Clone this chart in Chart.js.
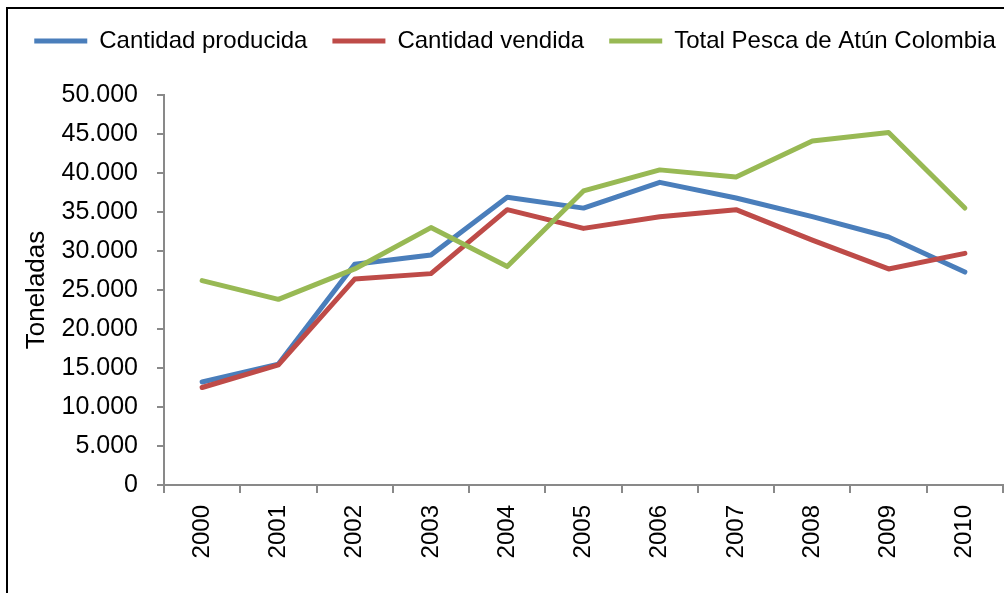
<!DOCTYPE html>
<html>
<head>
<meta charset="utf-8">
<script src="https://cdn.jsdelivr.net/npm/chart.js@4"></script>
<style>
  html, body { margin: 0; padding: 0; background: #fff; overflow: hidden; }
  #wrap { position: absolute; left: 0; top: 0; width: 1030px; height: 593px; }
</style>
</head>
<body>
<div id="wrap"><canvas id="c"></canvas></div>
<script>
const years = ['2000','2001','2002','2003','2004','2005','2006','2007','2008','2009','2010'];
const producida = [13200, 15500, 28300, 29500, 36900, 35500, 38800, 36800, 34400, 31800, 27300];
const vendida   = [12500, 15400, 26400, 27100, 35300, 32900, 34400, 35300, 31400, 27700, 29700];
const totalPesca = [26200, 23800, 27700, 33000, 28000, 37700, 40400, 39500, 44100, 45200, 35500];
const seriesNames = ['Cantidad producida', 'Cantidad vendida', 'Total Pesca de Atún Colombia'];
const yTitle = 'Toneladas';

const FONT = "'Liberation Sans', Arial, sans-serif";
const AXIS = '#898989';

function fmt(v) { return String(v).replace(/\B(?=(\d{3})+(?!\d))/g, '.'); }

const frame = {
  id: 'frame',
  beforeLayout(chart) {
    const lg = chart.legend;
    if (lg && !lg._patched) {
      const f = lg.fit.bind(lg);
      lg.fit = function () { this.maxWidth = 1400; f(); this.height = 91; };
      lg._patched = true;
    }
  },
  afterLayout(chart) {
    const lg = chart.legend;
    if (lg) { lg.left = 0; lg.right = chart.width; lg.width = chart.width; }
  },
  beforeDraw(chart) {
    const ctx = chart.ctx;
    ctx.save();
    ctx.fillStyle = '#fff';
    ctx.fillRect(0, 0, chart.width, chart.height);
    ctx.restore();
  },
  afterDraw(chart) {
    const ctx = chart.ctx;
    ctx.save();
    ctx.strokeStyle = '#000';
    ctx.lineWidth = 2;
    ctx.beginPath();
    ctx.moveTo(7, chart.height + 5);
    ctx.lineTo(7, 8);
    ctx.lineTo(chart.width + 5, 8);
    ctx.stroke();
    ctx.translate(37, 290);
    ctx.rotate(-Math.PI / 2);
    ctx.fillStyle = '#000';
    ctx.font = "26px " + FONT;
    ctx.textAlign = 'center';
    ctx.textBaseline = 'middle';
    ctx.fillText(yTitle, 0, 0);
    ctx.restore();
  }
};

function ds(label, data, color, order) {
  return {
    label, data, borderColor: color, backgroundColor: color,
    borderWidth: 5, pointRadius: 0, pointHoverRadius: 0, tension: 0,
    borderCapStyle: 'round', borderJoinStyle: 'round', order,
    pointStyle: 'line'
  };
}

new Chart(document.getElementById('c'), {
  type: 'line',
  data: {
    labels: years,
    datasets: [
      ds(seriesNames[0], producida, '#4A7EBB', 2),
      ds(seriesNames[1], vendida, '#BE4B48', 1),
      ds(seriesNames[2], totalPesca, '#98B954', 0)
    ]
  },
  options: {
    responsive: true,
    maintainAspectRatio: false,
    animation: false,
    events: [],
    layout: { padding: { left: 27, right: 27, top: 4, bottom: 0 } },
    plugins: {
      tooltip: { enabled: false },
      legend: {
        display: true,
        position: 'top',
        align: 'center',
        labels: {
          usePointStyle: true,
          pointStyle: 'line',
          pointStyleWidth: 53,
          padding: 25,
          color: '#000',
          font: { family: FONT, size: 24 },
          sort: (a, b) => a.datasetIndex - b.datasetIndex
        }
      }
    },
    scales: {
      x: {
        type: 'category',
        offset: true,
        grid: { display: true, offset: true, drawOnChartArea: false, drawTicks: true, tickLength: 8, color: AXIS, lineWidth: 2 },
        border: { display: true, color: AXIS, width: 2 },
        ticks: { minRotation: 90, maxRotation: 90, autoSkip: false, padding: 12, color: '#000', font: { family: FONT, size: 24 } },
        afterFit(s) { s.height = 108; }
      },
      y: {
        min: 0, max: 50000,
        grid: { display: true, drawOnChartArea: false, drawTicks: true, tickLength: 7, color: AXIS, lineWidth: 2 },
        border: { display: true, color: AXIS, width: 2 },
        ticks: { stepSize: 5000, padding: 19, color: '#000', font: { family: FONT, size: 25 }, callback: v => fmt(v) },
        afterFit(s) { s.width = 137; }
      }
    }
  },
  plugins: [frame]
});
</script>
</body>
</html>
